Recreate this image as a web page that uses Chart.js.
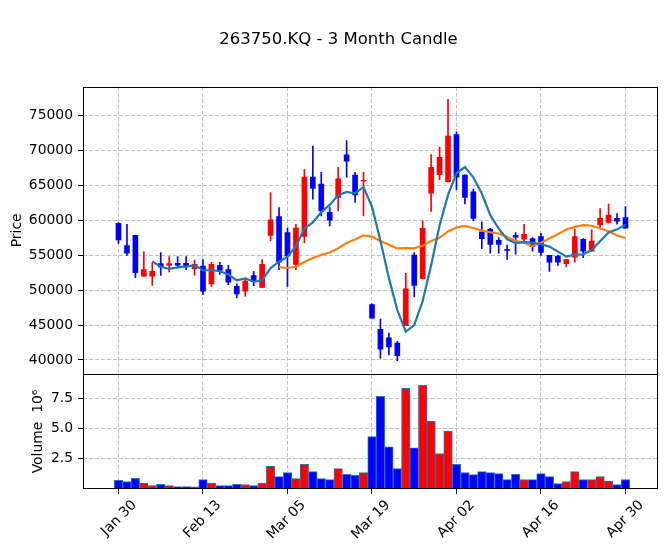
<!DOCTYPE html>
<html>
<head>
<meta charset="utf-8">
<script src="https://cdn.jsdelivr.net/npm/chart.js@4.4.1/dist/chart.umd.min.js"></script>
<style>
  body { margin: 0; background: #fff; }
  #chart { display: block; }
</style>
</head>
<body>
<canvas id="chart" width="669" height="553"></canvas>
<script>
// 263750.KQ - daily candles, Jan 30 .. Apr 30
const dates = ['Jan 30', 'Jan 31', 'Feb 01', 'Feb 02', 'Feb 05', 'Feb 06', 'Feb 07', 'Feb 08', 'Feb 09', 'Feb 12',
    'Feb 13', 'Feb 14', 'Feb 15', 'Feb 16', 'Feb 19', 'Feb 20', 'Feb 21', 'Feb 22', 'Feb 23', 'Mar 04',
    'Mar 05', 'Mar 06', 'Mar 07', 'Mar 08', 'Mar 11', 'Mar 12', 'Mar 13', 'Mar 14', 'Mar 15', 'Mar 18',
    'Mar 19', 'Mar 20', 'Mar 21', 'Mar 22', 'Mar 25', 'Mar 26', 'Mar 27', 'Mar 28', 'Mar 29', 'Apr 01',
    'Apr 02', 'Apr 03', 'Apr 04', 'Apr 05', 'Apr 08', 'Apr 09', 'Apr 10', 'Apr 11', 'Apr 12', 'Apr 15',
    'Apr 16', 'Apr 17', 'Apr 18', 'Apr 19', 'Apr 22', 'Apr 23', 'Apr 24', 'Apr 25', 'Apr 26', 'Apr 29',
    'Apr 30'];

const opens = [59600, 56400, 57850, 52000, 52000, 53800, 53550, 53850, 53850, 53050,
    53450, 50900, 53550, 52950, 50550, 49850, 52100, 50400, 57850, 60550,
    58250, 53700, 57700, 66200, 65200, 61150, 63300, 69400, 66500, 65650,
    47950, 44400, 43150, 42400, 44900, 55050, 51650, 63900, 66550, 65550,
    72300, 66500, 64100, 58350, 58750, 57150, 55850, 57850, 57300, 57400,
    57700, 55000, 54900, 53800, 54750, 57300, 55600, 59350, 59700, 60300,
    60400];
const highs = [59700, 59450, 57900, 55500, 53950, 55400, 54800, 54800, 54800, 54300,
    54400, 54000, 54000, 53550, 50900, 51650, 52700, 54400, 64000, 61850,
    58900, 59450, 67300, 70650, 66900, 61850, 67600, 71450, 66900, 66900,
    48050, 45850, 43850, 42650, 52400, 55400, 59950, 69450, 70500, 77350,
    72650, 66550, 64500, 59800, 58850, 57550, 56450, 58250, 59450, 57550,
    58150, 55000, 55050, 54400, 58750, 57400, 58650, 61700, 62350, 61000,
    62000];
const lows = [56700, 55000, 51800, 51950, 50700, 52100, 52600, 53200, 52950, 52150,
    49350, 50550, 52250, 50800, 48900, 49100, 50650, 50350, 57050, 52950,
    50550, 52950, 56800, 63050, 60650, 59200, 61350, 66200, 62600, 60650,
    45950, 40250, 40700, 39900, 44900, 49050, 51600, 61300, 65850, 65500,
    64400, 62350, 59950, 55950, 55300, 55300, 54400, 55150, 56800, 55600,
    55000, 52700, 53550, 53350, 54000, 54650, 55600, 59100, 59600, 59450,
    58850];
const closes = [57200, 55300, 52500, 52950, 52700, 53300, 53800, 53600, 53450, 53700,
    49850, 53700, 52850, 51150, 49450, 51300, 51300, 53700, 60100, 54000,
    54900, 58900, 66200, 64600, 61350, 60050, 65950, 68500, 63650, 65750,
    46000, 41550, 41850, 40600, 50200, 50700, 58850, 67600, 69050, 72100,
    66200, 63300, 60300, 57400, 56550, 56550, 55700, 57600, 58000, 56250,
    55400, 54000, 54000, 54400, 57700, 55600, 57050, 60300, 60750, 59900,
    58900];
// volume, millions of shares
const volumes = [0.72, 0.61, 0.89, 0.48, 0.28, 0.39, 0.28, 0.20, 0.20, 0.17,
    0.78, 0.48, 0.28, 0.28, 0.39, 0.37, 0.28, 0.48, 1.87, 1.02,
    1.35, 0.86, 2.03, 1.43, 0.86, 0.78, 1.68, 1.21, 1.13, 1.35,
    4.33, 7.66, 3.48, 1.68, 8.32, 3.40, 8.56, 5.61, 2.93, 4.79,
    2.03, 1.35, 1.19, 1.43, 1.35, 1.27, 0.78, 1.21, 0.78, 0.78,
    1.27, 1.02, 0.45, 0.61, 1.43, 0.78, 0.78, 1.02, 0.66, 0.37,
    0.78];

const xTicks = [0, 10, 20, 30, 40, 50, 60];
const priceTicks = [40000, 45000, 50000, 55000, 60000, 65000, 70000, 75000];
const volumeTicks = [2.5, 5.0, 7.5];
const mavPeriods = [5, 20];

const UP = '#ff0000';
const DOWN = '#0000ff';
const FONT = 'DejaVu Sans';

// simple moving average of the closes, like mplfinance's mav=(5,20)
function movingAverage(values, n) {
    const out = [];
    for (let i = n - 1; i < values.length; i++) {
        let sum = 0;
        for (let j = i - n + 1; j <= i; j++) sum += values[j];
        out.push({ x: i, y: sum / n });
    }
    return out;
}

const candleColors = closes.map((c, i) => c >= opens[i] ? UP : DOWN);

// black frame around both panels plus the divider between them
const panelFrame = {
    id: 'panelFrame',
    afterDraw(chart) {
        const ctx = chart.ctx;
        const { left, right, top, bottom } = chart.chartArea;
        const split = Math.round(chart.scales.y.bottom) + 0.5;
        ctx.save();
        ctx.strokeStyle = '#000';
        ctx.lineWidth = 1;
        ctx.strokeRect(Math.round(left) + 0.5, Math.round(top) + 0.5,
            Math.round(right - left) - 1, Math.round(bottom - top) - 1);
        ctx.beginPath();
        ctx.moveTo(left, split);
        ctx.lineTo(right, split);
        ctx.stroke();
        ctx.restore();
    }
};

const gridStyle = {
    color: '#b0b0b0',
    lineWidth: 0.8,
    tickColor: '#000',
    tickLength: 5,
    tickWidth: 1,
    offset: false
};

Chart.defaults.font.family = FONT;
Chart.defaults.font.size = 13.9;
Chart.defaults.color = '#000';

new Chart(document.getElementById('chart'), {
    type: 'bar',
    data: {
        datasets: [
            {
                label: 'MA' + mavPeriods[0],
                type: 'line',
                data: movingAverage(closes, mavPeriods[0]),
                borderColor: '#1f77b4',
                borderWidth: 2.2,
                pointRadius: 0,
                yAxisID: 'y',
                order: 0
            },
            {
                label: 'MA' + mavPeriods[1],
                type: 'line',
                data: movingAverage(closes, mavPeriods[1]),
                borderColor: '#ff7f0e',
                borderWidth: 2.2,
                pointRadius: 0,
                yAxisID: 'y',
                order: 0
            },
            {
                label: 'Body',
                data: opens.map((o, i) => ({ x: i, y: [o, closes[i]] })),
                backgroundColor: candleColors,
                barThickness: 5,
                grouped: false,
                yAxisID: 'y',
                order: 1
            },
            {
                label: 'Wick',
                data: lows.map((l, i) => ({ x: i, y: [l, highs[i]] })),
                backgroundColor: candleColors,
                barThickness: 1,
                grouped: false,
                yAxisID: 'y',
                order: 2
            },
            {
                label: 'Volume',
                data: volumes.map((v, i) => ({ x: i, y: v })),
                backgroundColor: candleColors,
                borderColor: '#1f77b4',
                borderWidth: 1,
                barThickness: 8.45,
                grouped: false,
                yAxisID: 'yv',
                order: 3
            }
        ]
    },
    options: {
        responsive: false,
        animation: false,
        devicePixelRatio: 1,
        layout: { padding: { left: 19, right: 11, top: 0, bottom: 0 } },
        plugins: {
            legend: { display: false },
            tooltip: { enabled: false },
            title: {
                display: true,
                text: '263750.KQ - 3 Month Candle',
                font: { size: 16.5, weight: 'normal' },
                color: '#000',
                padding: { top: 30, bottom: 37 }
            }
        },
        scales: {
            x: {
                type: 'linear',
                offset: false,
                min: -4.2,
                max: 63.85,
                afterBuildTicks: axis => { axis.ticks = xTicks.map(v => ({ value: v })); },
                afterFit: axis => { axis.height = 64; },
                ticks: {
                    autoSkip: false,
                    minRotation: 45,
                    maxRotation: 45,
                    padding: 3,
                    labelOffset: 16,
                    callback: value => dates[value] ?? ''
                },
                grid: gridStyle,
                border: { display: false, dash: [4, 2] }
            },
            yv: {
                type: 'linear',
                position: 'left',
                stack: 'panels',
                stackWeight: 115,
                min: 0,
                max: 9.5,
                afterBuildTicks: axis => { axis.ticks = volumeTicks.map(v => ({ value: v })); },
                afterFit: axis => { axis.width = 64; },
                ticks: { padding: 5, callback: value => value.toFixed(1) },
                title: { display: true, text: 'Volume  10\u2076', padding: { top: 11, bottom: 0 } },
                grid: gridStyle,
                border: { display: false, dash: [4, 2] }
            },
            y: {
                type: 'linear',
                position: 'left',
                stack: 'panels',
                stackWeight: 287,
                min: 37990,
                max: 79160,
                afterBuildTicks: axis => { axis.ticks = priceTicks.map(v => ({ value: v })); },
                afterFit: axis => { axis.width = 64; },
                ticks: { padding: 5, callback: value => String(value) },
                title: { display: true, text: 'Price', padding: { top: -10, bottom: 0 } },
                grid: gridStyle,
                border: { display: false, dash: [4, 2] }
            }
        }
    },
    plugins: [panelFrame]
});
</script>
</body>
</html>
